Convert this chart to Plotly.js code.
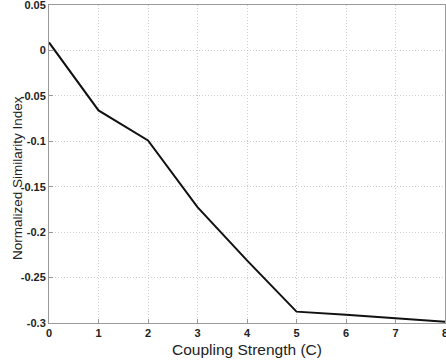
<!DOCTYPE html>
<html>
<head>
<meta charset="utf-8">
<script src="https://cdn.plot.ly/plotly-3.0.1.min.js"></script>
<style>
html,body{margin:0;padding:0;background:#fff;}
#chart{width:446px;height:362px;}
</style>
</head>
<body>
<div id="chart"></div>
<script>
var couplingStrength = [0, 1, 2, 3, 4, 5, 6, 7, 8];
var similarityIndex = [0.0088, -0.066, -0.099, -0.1725, -0.231, -0.2875, -0.291, -0.2945, -0.2985];
var xTickVals = [0, 1, 2, 3, 4, 5, 6, 7, 8];
var xTickText = ['0', '1', '2', '3', '4', '5', '6', '7', '8'];
var yTickVals = [0.05, 0, -0.05, -0.1, -0.15, -0.2, -0.25, -0.3];
var yTickText = ['0.05', '0', '-0.05', '-0.1', '-0.15', '-0.2', '-0.25', '-0.3'];
var xTitle = 'Coupling Strength (C)';
var yTitle = 'Normalized Similarity Index';

var trace = {
  x: couplingStrength,
  y: similarityIndex,
  type: 'scatter',
  mode: 'lines',
  line: {color: '#111', width: 2},
  hoverinfo: 'x+y'
};

var fam = 'Liberation Sans, Arial, sans-serif';
var tickFont = {family: fam, size: 11, color: '#222', weight: 'bold'};

var axisCommon = {
  tickfont: tickFont,
  ticklabeloverflow: 'allow',
  ticks: 'inside',
  ticklen: 4,
  tickcolor: '#999',
  showline: true,
  linecolor: '#999',
  linewidth: 1,
  mirror: true,
  showgrid: true,
  gridcolor: '#cfcfcf',
  griddash: '1px,2px',
  zeroline: false
};

var layout = {
  width: 446,
  height: 362,
  margin: {l: 49, r: 1, t: 5, b: 39},
  paper_bgcolor: '#fff',
  plot_bgcolor: '#fff',
  showlegend: false,
  xaxis: Object.assign({range: [0, 8], tickvals: xTickVals, ticktext: xTickText}, axisCommon),
  yaxis: Object.assign({range: [-0.3, 0.05], tickvals: yTickVals, ticktext: yTickText}, axisCommon),
  annotations: [{
    text: yTitle,
    xref: 'paper', yref: 'paper',
    x: -0.078, y: 0.456,
    xanchor: 'center', yanchor: 'middle',
    textangle: -90,
    showarrow: false,
    font: {family: fam, size: 13.5, color: '#222'}
  }, {
    text: xTitle,
    xref: 'paper', yref: 'paper',
    x: 0.5, y: -0.082,
    xanchor: 'center', yanchor: 'middle',
    showarrow: false,
    font: {family: fam, size: 15.5, color: '#222'}
  }]
};

Plotly.newPlot('chart', [trace], layout, {displayModeBar: false, staticPlot: true});
</script>
</body>
</html>
